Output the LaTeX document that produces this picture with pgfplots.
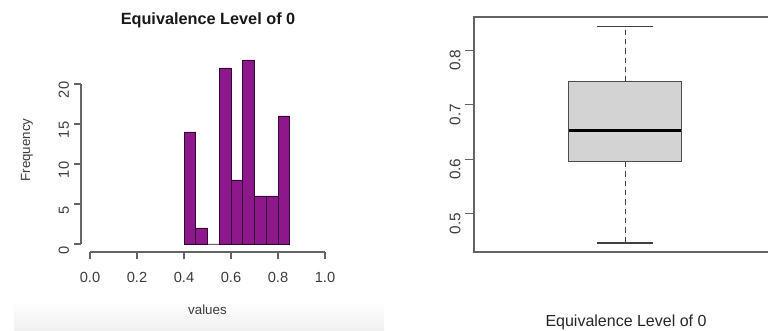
\documentclass[border=0pt]{standalone}
\usepackage{pgfplots}
\pgfplotsset{compat=1.18}
\usepgfplotslibrary{statistics}
\usepackage{fontspec}
\setmainfont{Liberation Sans}

\definecolor{histfill}{RGB}{140,24,140}
\definecolor{histedge}{RGB}{50,8,50}
\definecolor{axgray}{RGB}{100,100,100}
\definecolor{txtgray}{RGB}{60,60,60}
\definecolor{boxfill}{RGB}{211,211,211}

\begin{document}
\begin{tikzpicture}
% soft band along the bottom of the left panel
\shade[top color=white, bottom color=black!6] (10.5pt,0pt) rectangle (288pt,23pt);

% ---------------- histogram ----------------
\begin{axis}[
  at={(60.75pt,59.25pt)}, anchor=south west,
  scale only axis, width=183pt, height=144pt,
  xmin=-0.0383, xmax=1, ymin=-1, ymax=23,
  axis x line*=bottom, axis y line*=left,
  axis line style={draw=none},
  xtick={0,0.2,0.4,0.6,0.8,1.0},
  ytick={0,5,10,15,20},
  tick align=outside,
  major tick length=5.5pt,
  every tick/.style={axgray, line width=0.8pt},
  /pgf/number format/assume math mode=true,
  xticklabel style={font=\fontsize{11}{13}\selectfont, text=txtgray, yshift=-6pt,
    /pgf/number format/.cd, fixed, fixed zerofill, precision=1},
  yticklabel style={font=\fontsize{11}{13}\selectfont, text=txtgray,
    rotate=90, anchor=south, xshift=-4.5pt},
  clip=false,
]
\addplot[ybar interval, fill=histfill, draw=histedge, line width=0.6pt]
  coordinates {
    (0.40,14) (0.45,2) (0.50,0) (0.55,22) (0.60,8)
    (0.65,23) (0.70,6) (0.75,6) (0.80,16) (0.85,16)
  };
\draw[axgray, line width=0.8pt] (axis cs:0,-1) -- (axis cs:1,-1);
\draw[axgray, line width=0.8pt] (axis cs:-0.0383,0) -- (axis cs:-0.0383,20);
\end{axis}

% ---------------- boxplot ----------------
% the plot region runs on to the right edge of the page
\begin{axis}[
  at={(355.5pt,59.25pt)}, anchor=south west,
  scale only axis, width=220.5pt, height=176.25pt,
  xmin=0, xmax=1.947, ymin=0.4295, ymax=0.861,
  axis x line*=bottom, axis y line*=left,
  axis line style={draw=none},
  xtick=\empty,
  ytick={0.5,0.6,0.7,0.8},
  tick align=outside,
  major tick length=6.5pt,
  every tick/.style={axgray, line width=0.8pt},
  /pgf/number format/assume math mode=true,
  yticklabel style={font=\fontsize{11.5}{13}\selectfont, text=txtgray,
    rotate=90, anchor=south, xshift=-7.5pt,
    /pgf/number format/.cd, fixed, fixed zerofill, precision=1},
  clip=false,
  boxplot/draw direction=y,
  boxplot/box extend=0.744,
  boxplot/whisker extend=0.371,
  boxplot/every median/.style={line width=2.2pt, black},
  boxplot/draw/lower whisker/.code={%
    \draw[dashed, dash pattern=on 4pt off 3pt, black!75, line width=0.7pt]
      (boxplot box cs:\pgfplotsboxplotvalue{lower quartile},0.5)
      -- (boxplot box cs:\pgfplotsboxplotvalue{lower whisker},0.5);
    \draw[black!75, line width=0.8pt]
      (boxplot whisker cs:\pgfplotsboxplotvalue{lower whisker},0)
      -- (boxplot whisker cs:\pgfplotsboxplotvalue{lower whisker},1);
  },
  boxplot/draw/upper whisker/.code={%
    \draw[dashed, dash pattern=on 4pt off 3pt, black!75, line width=0.7pt]
      (boxplot box cs:\pgfplotsboxplotvalue{upper quartile},0.5)
      -- (boxplot box cs:\pgfplotsboxplotvalue{upper whisker},0.5);
    \draw[black!75, line width=0.8pt]
      (boxplot whisker cs:\pgfplotsboxplotvalue{upper whisker},0)
      -- (boxplot whisker cs:\pgfplotsboxplotvalue{upper whisker},1);
  },
]
\addplot[boxplot prepared={
    draw position=1,
    lower whisker=0.446, lower quartile=0.595,
    median=0.653,
    upper quartile=0.742, upper whisker=0.844},
  draw=black!70, fill=boxfill, line width=0.8pt]
  coordinates {};
% plot frame: left, top and bottom edges
\draw[axgray, line width=0.9pt]
  (rel axis cs:0.999,1) -- (rel axis cs:0,1) -- (rel axis cs:0,0) -- (rel axis cs:0.999,0);
\end{axis}

% titles and axis labels
\node[font=\fontsize{12.2}{14}\selectfont\bfseries, text=black!90]
  at (156pt,233.25pt) {Equivalence Level of 0};
\node[font=\fontsize{10}{12}\selectfont, text=txtgray] at (155.6pt,15.75pt) {values};
\node[font=\fontsize{10}{12}\selectfont, text=txtgray, rotate=90]
  at (20.25pt,135.75pt) {Frequency};
\node[font=\fontsize{12}{14}\selectfont, text=black!85] at (469.5pt,6.75pt)
  {Equivalence Level of 0};

\pgfresetboundingbox
\useasboundingbox (0,0) rectangle (576pt,248.25pt);
\end{tikzpicture}
\end{document}
